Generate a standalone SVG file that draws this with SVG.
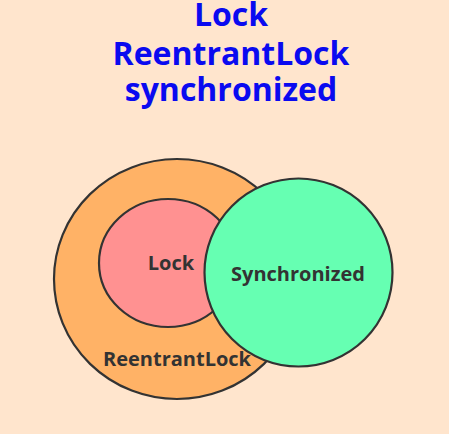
<svg xmlns="http://www.w3.org/2000/svg" width="449" height="434" viewBox="0 0 449 434">
<style>
.title{font-family:"Open Sans","Noto Sans","DejaVu Sans",sans-serif;font-weight:bold;font-size:32px;fill:#0a0af0;text-anchor:middle}
.shape{stroke:#333333;stroke-width:2.2}
.lbl{font-family:"Open Sans","Noto Sans","DejaVu Sans",sans-serif;font-weight:bold;font-size:20px;fill:#333333;text-anchor:middle}
</style>
<rect x="0" y="0" width="449" height="434" fill="#ffe5cd"/>
<g id="title">
<text class="title" x="231" y="26">Lock</text>
<text class="title" x="231" y="65">ReentrantLock</text>
<text class="title" x="231" y="101">synchronized</text>
</g>
<g id="reentrantlock">
<ellipse class="shape" cx="177" cy="279" rx="123" ry="120" fill="#ffb266"/>
<text class="lbl" x="177" y="366">ReentrantLock</text>
</g>
<g id="lock">
<ellipse class="shape" cx="168" cy="263" rx="69" ry="64" fill="#ff9191"/>
<text class="lbl" x="171" y="270">Lock</text>
</g>
<g id="synchronized">
<circle class="shape" cx="298.5" cy="272.5" r="94" fill="#66ffb2"/>
<text class="lbl" x="298" y="281">Synchronized</text>
</g>
<g id="connectors"/>
</svg>
